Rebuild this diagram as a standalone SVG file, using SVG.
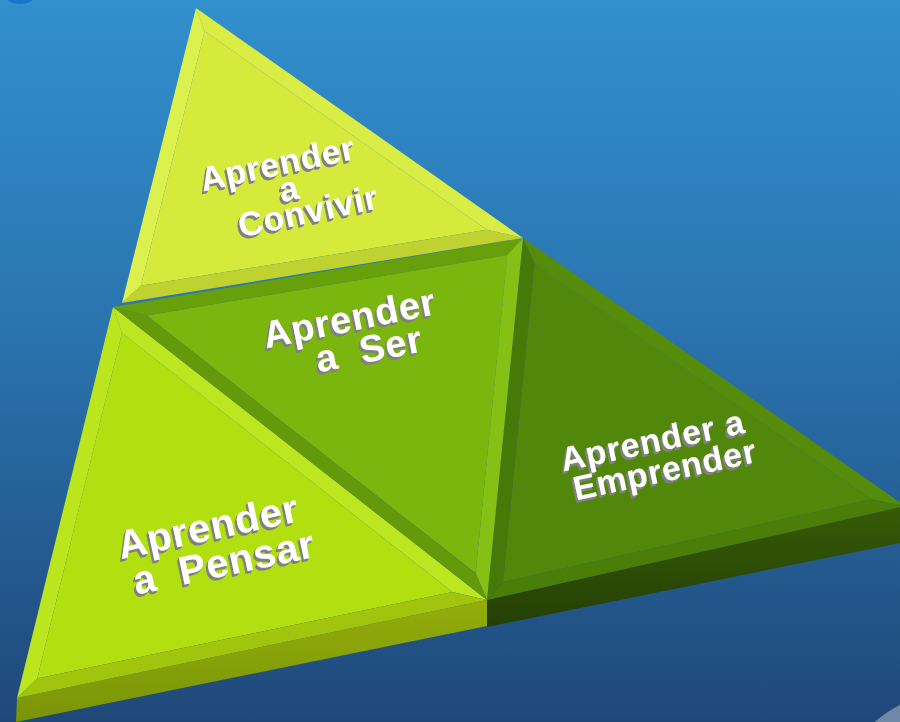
<svg xmlns="http://www.w3.org/2000/svg" width="900" height="722" viewBox="0 0 900 722">
  <defs>
    <linearGradient id="bg" x1="0" y1="0" x2="0" y2="1">
      <stop offset="0" stop-color="#3190cd"/>
      <stop offset="0.45" stop-color="#2a74b0"/>
      <stop offset="1" stop-color="#1f4878"/>
    </linearGradient>
    <linearGradient id="sideP" x1="0" y1="0" x2="0" y2="1">
      <stop offset="0" stop-color="#93ad0b"/>
      <stop offset="1" stop-color="#7a9407"/>
    </linearGradient>
    <linearGradient id="sideE" x1="0" y1="0" x2="0" y2="1">
      <stop offset="0" stop-color="#375b06"/>
      <stop offset="1" stop-color="#243f04"/>
    </linearGradient>
    <filter id="ext" x="-20%" y="-30%" width="140%" height="170%">
      <feOffset in="SourceAlpha" dx="-1" dy="1" result="o1"/>
      <feOffset in="SourceAlpha" dx="-1.5" dy="2" result="o2"/>
      <feOffset in="SourceAlpha" dx="-2" dy="3" result="o3"/>
      <feMerge result="m">
        <feMergeNode in="o1"/>
        <feMergeNode in="o2"/>
        <feMergeNode in="o3"/>
      </feMerge>
      <feFlood flood-color="#808080"/>
      <feComposite operator="in" in2="m" result="sh"/>
      <feMerge>
        <feMergeNode in="sh"/>
        <feMergeNode in="SourceGraphic"/>
      </feMerge>
    </filter>
  </defs>
  <style>
    .lbl { font-family: "Liberation Sans", Arial, sans-serif; font-weight: bold; fill: #ffffff; text-anchor: middle; letter-spacing: 0.8px; }
  </style>

  <rect x="0" y="0" width="900" height="722" fill="url(#bg)"/>
  <ellipse cx="20" cy="-4" rx="15" ry="8" fill="#1677c9"/>
  <circle cx="960" cy="820" r="130" fill="#6f88a6"/>

  <g id="connectors"/>

  <g id="node-emprender">
    <polygon points="487,600 905,506 905,542 487,627" fill="url(#sideE)"/>
    <polygon points="534.6,263.2 871.1,499.3 502.9,582.1" fill="#51870a"/>
    <polygon points="523,238 905,506 871.1,499.3 534.6,263.2" fill="#568c0b"/>
    <polygon points="905,506 487,600 502.9,582.1 871.1,499.3" fill="#4a7e09"/>
    <polygon points="487,600 523,238 534.6,263.2 502.9,582.1" fill="#467a08"/>
    <g filter="url(#ext)">
      <g transform="translate(655,452) rotate(-12)">
        <text class="lbl" x="0" y="0" font-size="34">Aprender a</text>
        <text class="lbl" x="6" y="31" font-size="34">Emprender</text>
      </g>
    </g>
  </g>

  <g id="node-pensar">
    <polygon points="17,698 487,600 487,626 16,722" fill="url(#sideP)"/>
    <polygon points="122,333.1 452.3,591.9 37.2,678.5" fill="#b1df0f"/>
    <polygon points="113,307 487,600 452.3,591.9 122,333.1" fill="#bce720"/>
    <polygon points="487,600 17,698 37.2,678.5 452.3,591.9" fill="#a0c50c"/>
    <polygon points="17,698 113,307 122,333.1 37.2,678.5" fill="#bbe61e"/>
    <g filter="url(#ext)">
      <g transform="translate(211,540) rotate(-12)">
        <text class="lbl" x="0" y="0" font-size="40">Aprender</text>
        <text class="lbl" x="8" y="38" font-size="40" xml:space="preserve">a  Pensar</text>
      </g>
    </g>
  </g>

  <g id="node-ser">
    <polygon points="146.6,315.5 507.3,254.9 475.6,573.3" fill="#7ab60e"/>
    <polygon points="113,307 523,238 507.3,254.9 146.6,315.5" fill="#68a00b"/>
    <polygon points="523,238 487,600 475.6,573.3 507.3,254.9" fill="#86c014"/>
    <polygon points="487,600 113,307 146.6,315.5 475.6,573.3" fill="#64990a"/>
    <g filter="url(#ext)">
      <g transform="translate(352,331) rotate(-11.5)">
        <text class="lbl" x="0" y="0" font-size="38">Aprender</text>
        <text class="lbl" x="13" y="34" font-size="38" xml:space="preserve">a  Ser</text>
      </g>
    </g>
  </g>

  <g id="node-convivir">
    <polygon points="204.6,31.2 486.8,229.7 140.8,285.8" fill="#d5ea3a"/>
    <polygon points="196,8 523,238 486.8,229.7 204.6,31.2" fill="#d9ed44"/>
    <polygon points="523,238 122,303 140.8,285.8 486.8,229.7" fill="#bfd230"/>
    <polygon points="122,303 196,8 204.6,31.2 140.8,285.8" fill="#dcf04e"/>
    <g filter="url(#ext)">
      <g transform="translate(280,175) rotate(-12)">
        <text class="lbl" x="0" y="0" font-size="34">Aprender</text>
        <text class="lbl" x="6" y="27" font-size="34">a</text>
        <text class="lbl" x="20" y="53" font-size="34">Convivir</text>
      </g>
    </g>
  </g>
</svg>
